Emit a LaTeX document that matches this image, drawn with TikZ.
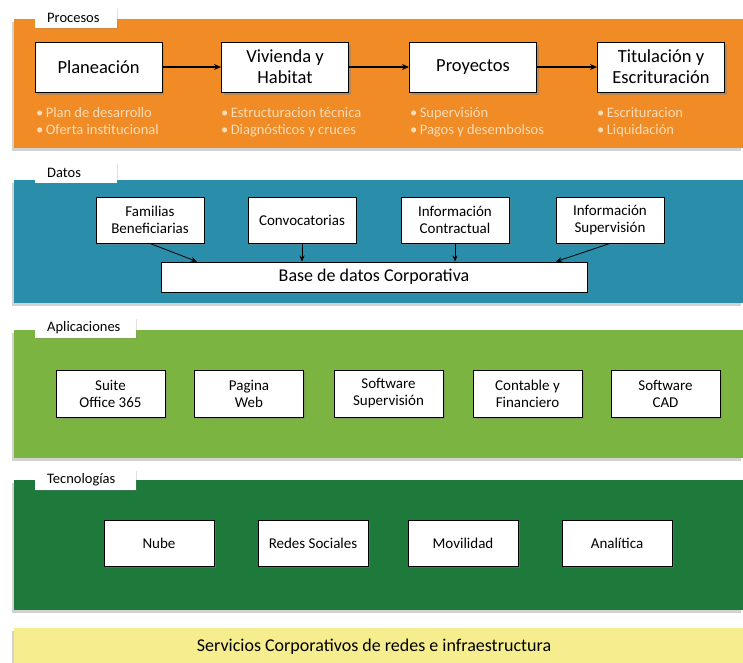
\documentclass[tikz,border=0pt]{standalone}
\usepackage{fontspec}
\setmainfont{Carlito}
\usetikzlibrary{shadows,arrows.meta}
\definecolor{cOrange}{HTML}{F08B25}
\definecolor{cTeal}{HTML}{2A8DA9}
\definecolor{cGreen}{HTML}{7BB441}
\definecolor{cDark}{HTML}{1E7A3B}
\definecolor{cYellow}{HTML}{F6EE8E}
\definecolor{cSub}{HTML}{FBDDB8}
\begin{document}
\begin{tikzpicture}[x=1pt,y=-1pt,
  band/.style={rectangle,anchor=north west,inner sep=0,minimum width=729pt,
    drop shadow={shadow xshift=-2pt,shadow yshift=-3pt,opacity=0.35}},
  tab/.style={rectangle,anchor=north west,fill=white,inner sep=0,minimum height=20pt,
    drop shadow={shadow xshift=1pt,shadow yshift=-1pt,opacity=0.25}},
  tabtext/.style={anchor=west,inner sep=0,font=\fontsize{14.5}{16}\selectfont},
  pbox/.style={rectangle,draw=black,line width=1pt,fill=white,inner sep=0,
    minimum width=127pt,minimum height=50pt,align=center,
    font=\fontsize{18.5}{21}\selectfont,
    drop shadow={shadow xshift=2pt,shadow yshift=-3pt,opacity=0.45}},
  sbox/.style={rectangle,draw=black,line width=0.9pt,fill=white,inner sep=0,
    minimum width=108pt,minimum height=46pt,align=center,
    font=\fontsize{15}{17}\selectfont,
    drop shadow={shadow xshift=2pt,shadow yshift=-2pt,opacity=0.4}},
  sub/.style={anchor=north west,inner sep=0,align=left,text=cSub,
    font=\fontsize{14.5}{17}\selectfont},
  parrow/.style={-{Stealth[length=7pt,width=6pt]},line width=1.3pt},
  darrow/.style={-{Stealth[length=6pt,width=5pt]},line width=0.8pt}]
\useasboundingbox (0,0) rectangle (743,662);
\fill[white] (0,0) rectangle (743,662);

% ---------- Procesos ----------
\node[band,fill=cOrange,minimum height=129pt] (procband) at (14,19) {};
\node[tab,minimum width=82pt] (proctab) at (35,8) {};
\node[tabtext] (proctext) at (47,18) {Procesos};
\node[pbox] (plan) at (98.5,67) {Planeación};
\node[pbox] (viv) at (285,67) {Vivienda y\\Habitat};
\node[pbox] (proy) at (473,67) {Proyectos};
\node[pbox] (tit) at (661,67) {Titulación y\\Escrituración};
\draw[parrow] (plan) -- (viv);
\draw[parrow] (viv) -- (proy);
\draw[parrow] (proy) -- (tit);
\node[sub] (s1) at (36,107) {\textbullet\,Plan de desarrollo\\\textbullet\,Oferta institucional};
\node[sub] (s2) at (221,107) {\textbullet\,Estructuracion técnica\\\textbullet\,Diagnósticos y cruces};
\node[sub] (s3) at (410,107) {\textbullet\,Supervisión\\\textbullet\,Pagos y desembolsos};
\node[sub] (s4) at (597,107) {\textbullet\,Escrituracion\\\textbullet\,Liquidación};

% ---------- Datos ----------
\node[band,fill=cTeal,minimum height=123pt] (datband) at (14,180) {};
\node[tab,minimum width=82pt] (dattab) at (35,163) {};
\node[tabtext] (dattext) at (47,173) {Datos};
\node[sbox] (fam) at (150,220) {Familias\\Beneficiarias};
\node[sbox] (conv) at (302,220) {Convocatorias};
\node[sbox] (icon) at (455,220) {Información\\Contractual};
\node[sbox] (isup) at (610,220) {Información\\Supervisión};
\node[rectangle,draw=black,line width=0.9pt,fill=white,inner sep=0,
  minimum width=426pt,minimum height=30pt,font=\fontsize{18}{20}\selectfont,
  drop shadow={shadow xshift=2pt,shadow yshift=-2pt,opacity=0.4}] (base) at (374,277) {Base de datos Corporativa};
\draw[darrow] (fam.south) -- (base.north -| 197,0);
\draw[darrow] (conv.south) -- (conv.south |- base.north);
\draw[darrow] (icon.south) -- (icon.south |- base.north);
\draw[darrow] (isup.south) -- (base.north -| 556,0);

% ---------- Aplicaciones ----------
\node[band,fill=cGreen,minimum height=128pt] (appband) at (14,330) {};
\node[tab,minimum width=101pt] (apptab) at (35,318) {};
\node[tabtext] (apptext) at (47,328) {Aplicaciones};
\node[sbox,minimum width=109pt,minimum height=47pt] (suite) at (110.5,393.5) {Suite\\Office 365};
\node[sbox,minimum width=109pt,minimum height=47pt] (pag) at (249,393.5) {Pagina\\Web};
\node[sbox,minimum width=109pt,minimum height=47pt] (ssup) at (388.5,393.5) {Software\\Supervisión};
\node[sbox,minimum width=109pt,minimum height=47pt] (cont) at (527.5,393.5) {Contable y\\Financiero};
\node[sbox,minimum width=109pt,minimum height=47pt] (cad) at (665.5,393.5) {Software\\CAD};

% ---------- Tecnologias ----------
\node[band,fill=cDark,minimum height=130pt] (tecband) at (14,480) {};
\node[tab,minimum width=101pt] (tectab) at (35,470) {};
\node[tabtext] (tectext) at (47,480) {Tecnologías};
\node[sbox,minimum width=110pt,minimum height=46pt] (nube) at (159,543) {Nube};
\node[sbox,minimum width=110pt,minimum height=46pt] (redes) at (313,543) {Redes Sociales};
\node[sbox,minimum width=110pt,minimum height=46pt] (mov) at (463,543) {Movilidad};
\node[sbox,minimum width=110pt,minimum height=46pt] (ana) at (617,543) {Analítica};

% ---------- Servicios ----------
\node[band,fill=cYellow,minimum height=40pt] (servband) at (14,628) {};
\node[inner sep=0,font=\fontsize{18}{20}\selectfont] (serv) at (374,647) {Servicios Corporativos de redes e infraestructura};
\end{tikzpicture}
\end{document}
